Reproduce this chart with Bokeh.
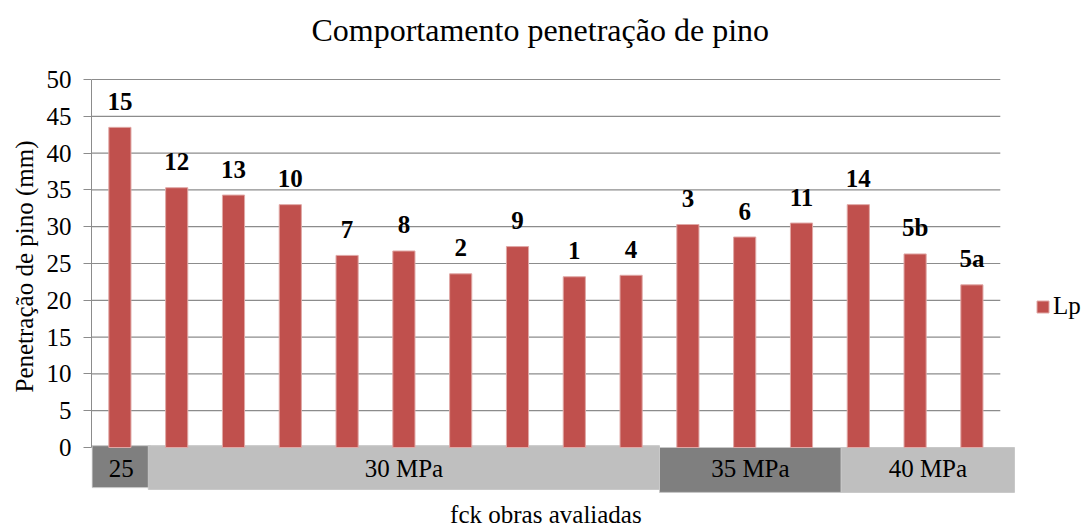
from bokeh.plotting import figure
from bokeh.models import Range1d, FixedTicker, ColumnDataSource, Label, Title
from bokeh.embed import file_html
from bokeh.resources import INLINE
from bokeh.core.properties import value

# ---- data ----
obras = ["15", "12", "13", "10", "7", "8", "2", "9", "1", "4", "3", "6", "11", "14", "5b", "5a"]
lp = [43.5, 35.3, 34.3, 33.0, 26.1, 26.7, 23.6, 27.3, 23.2, 23.4, 30.3, 28.6, 30.5, 33.0, 26.3, 22.1]
grupos = ["25", "30 MPa", "35 MPa", "40 MPa"]
obras_por_grupo = [1, 9, 3, 3]
y_ticks = [0, 5, 10, 15, 20, 25, 30, 35, 40, 45, 50]

FONT = "Liberation Serif"
BAR = "#C0504D"
GRID = "#8C8C8C"
FS = "25px"

n = len(obras)
y_max = max(y_ticks)
band_end = n + 0.25

# the frame covers the whole drawing area so that titles and legend are not clipped
p = figure(
    frame_width=994, frame_height=519,
    min_border_left=91, min_border_right=3, min_border_top=8, min_border_bottom=0,
    x_range=Range1d(0, 17.5), y_range=Range1d(-10.87, 59.65),
    output_backend="svg", toolbar_location=None,
)
p.outline_line_color = None
p.xgrid.visible = False
p.ygrid.visible = False
p.xaxis.visible = False

# grid lines (drawn over the category range only)
gl = [t for t in y_ticks if t > 0]
p.segment(x0=[0] * len(gl), x1=[n] * len(gl), y0=gl, y1=gl, line_color=GRID, line_width=1.2)

# category bands
edges = [0]
for c in obras_por_grupo:
    edges.append(edges[-1] + c)
left = edges[:-1]
right = edges[1:]
right[-1] = band_end
left_adj = [0.01, 0, 0, 0.2]
right_adj = [0.04, 0, 0.2, 0]
band_bottom = [-5.45, -5.7, -6.1, -6.1]
band_top = [0.25, 0.25, 0.0, 0.0]
band_colors = ["#7F7F7F", "#BFBFBF", "#7F7F7F", "#BFBFBF"]
bl = [a + b for a, b in zip(left, left_adj)]
br = [a + b for a, b in zip(right, right_adj)]
p.quad(left=bl, right=br, bottom=band_bottom, top=band_top,
       fill_color=band_colors, line_color="#C8C8C8", line_width=1)
p.text(x=[(a + b) / 2 for a, b in zip(bl, br)], y=[-2.8] * len(grupos), text=grupos,
       text_align="center", text_baseline="middle",
       text_font=value(FONT), text_font_size=FS, text_color="#000000")

# bars
xs = [i + 0.5 for i in range(n)]
src = ColumnDataSource(dict(x=xs, top=lp, obra=obras))
p.vbar(x="x", top="top", bottom=0, width=0.39, source=src,
       fill_color=BAR, line_color="#E0A8A6", line_width=1, legend_label="Lp")

# data labels
p.text(x="x", y="top", text="obra", source=src, text_align="center",
       text_baseline="alphabetic", y_offset=-26,
       text_font=value(FONT), text_font_size=FS, text_font_style="bold", text_color="#000000")

# y axis
ya = p.yaxis[0]
ya.ticker = FixedTicker(ticks=y_ticks)
ya.bounds = (0, y_max)
ya.axis_line_color = GRID
ya.major_tick_line_color = GRID
ya.major_tick_out = 8
ya.major_tick_in = 0
ya.minor_tick_line_color = None
ya.major_label_standoff = 12
ya.major_label_text_font = FONT
ya.major_label_text_font_size = FS
ya.major_label_text_color = "#000000"

ytitle = Title(text="Penetração de pino (mm)", align="left", offset=135, standoff=11,
               text_font=FONT, text_font_size=FS, text_font_style="normal",
               text_color="#000000")
p.add_layout(ytitle, "left")

# chart title and x-axis title
p.add_layout(Label(x=7.9, y=56.7, text="Comportamento penetração de pino",
                   text_align="center", text_baseline="alphabetic",
                   text_font=FONT, text_font_size="32px", text_color="#000000"))
p.add_layout(Label(x=n / 2, y=-9.1, text="fck obras avaliadas",
                   text_align="center", text_baseline="middle",
                   text_font=FONT, text_font_size=FS, text_color="#000000"))

# legend
lg = p.legend[0]
lg.location = (944, 207)
lg.border_line_color = None
lg.background_fill_alpha = 0
lg.padding = 0
lg.margin = 0
lg.glyph_width = 15
lg.glyph_height = 15
lg.label_standoff = 3
lg.label_text_font = FONT
lg.label_text_font_size = FS
lg.label_text_color = "#000000"

open("out.html", "w").write(file_html(p, INLINE))
